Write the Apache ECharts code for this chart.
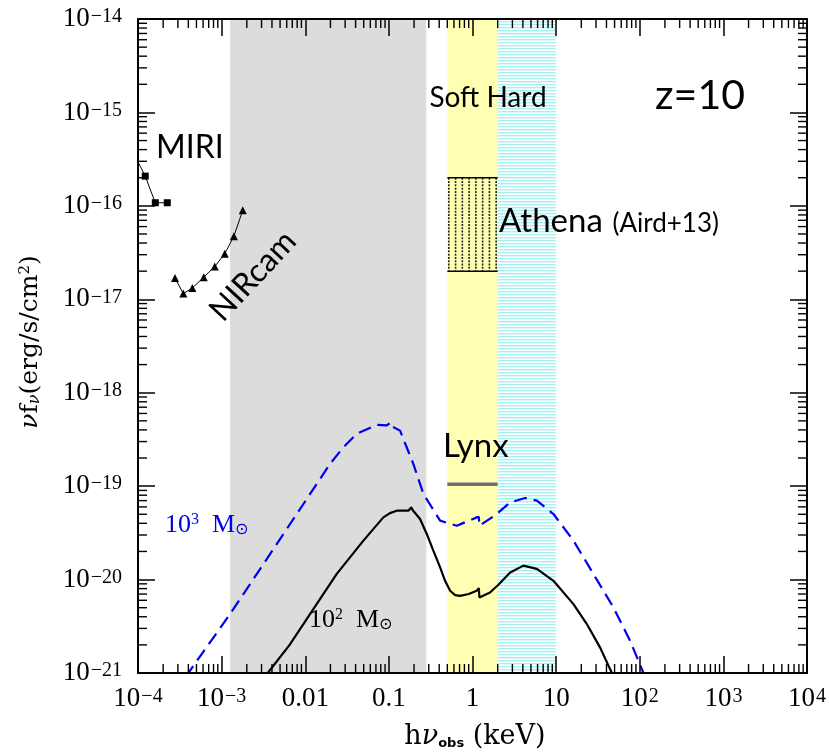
<!DOCTYPE html>
<html><head><meta charset="utf-8">
<script src="https://cdn.jsdelivr.net/npm/echarts@6/dist/echarts.min.js"></script>
<style>html,body{margin:0;padding:0;background:#fff}#c{width:829px;height:752px}</style>
</head><body><div id="c"></div>
<script>
// ---- data ----
const xTickLabels = [['10','−4'],['10','−3'],['0.01',''],['0.1',''],['1',''],['10',''],['10','2'],['10','3'],['10','4']];
const yTickLabels = [['10','−21'],['10','−20'],['10','−19'],['10','−18'],['10','−17'],['10','−16'],['10','−15'],['10','−14']];
const yTickValues = [1e-21, 1e-20, 1e-19, 1e-18, 1e-17, 1e-16, 1e-15, 1e-14];
const xRange = [1e-4, 1e4];
const yRange = [1e-21, 1e-14];

const grayBand = [1.26e-3, 0.28];   // keV
const softBand = [0.5, 2];
const hardBand = [2, 10];
const athenaBox = [0.5, 2e-17, 2, 2e-16];
const lynxLevel = [[0.5, 1.05e-19], [2, 1.05e-19]];

const miri = [[1e-4, 2.96e-16, 'none'], [1.22e-4, 2.08e-16], [1.61e-4, 1.08e-16], [2.24e-4, 1.08e-16]];
const nircam = [[2.77e-4, 1.69e-17], [3.48e-4, 1.15e-17], [4.46e-4, 1.32e-17], [6.11e-4, 1.72e-17],
  [8.27e-4, 2.24e-17], [1.09e-3, 3.08e-17], [1.40e-3, 4.72e-17], [1.79e-3, 8.97e-17]];

const bh100 = [[3.3e-3, 0.9e-21], [3.56e-3, 1.0e-21], [6.5e-3, 2.0e-21], [0.0114, 4.27e-21], [0.0238, 1.15e-20],
  [0.0496, 2.61e-20], [0.0859, 4.63e-20], [0.103, 5.14e-20], [0.124, 5.46e-20], [0.171, 5.46e-20],
  [0.186, 5.93e-20], [0.192, 5.55e-20], [0.236, 4.45e-20], [0.284, 3.08e-20], [0.340, 2.04e-20],
  [0.41, 1.35e-20], [0.47, 9.7e-21], [0.54, 7.59e-21], [0.62, 6.82e-21], [0.711, 6.7e-21],
  [0.9, 7.0e-21], [1.125, 7.59e-21], [1.19, 8.1e-21], [1.21, 6.43e-21], [1.62, 7.28e-21],
  [2.04, 8.79e-21], [2.82, 1.19e-20], [4.06, 1.41e-20], [5.88, 1.30e-20], [9.29, 9.7e-21],
  [16.1, 5.46e-21], [23.3, 3.34e-21], [33.6, 1.87e-21], [46.4, 1.0e-21], [52, 0.85e-21]];

const bh1000 = [[3.8e-4, 0.9e-21], [4.0e-4, 1.0e-21], [1.26e-3, 4.27e-21], [3.79e-3, 1.87e-20],
  [9.5e-3, 6.44e-20], [0.0198, 1.73e-19], [0.0286, 2.61e-19], [0.0413, 3.63e-19], [0.0716, 4.53e-19],
  [0.0944, 4.47e-19], [0.106, 4.83e-19], [0.112, 4.3e-19], [0.136, 3.93e-19], [0.196, 1.73e-19],
  [0.259, 8.24e-20], [0.41, 4.27e-20], [0.649, 3.77e-20], [1.125, 4.63e-20], [1.19, 4.7e-20],
  [1.21, 3.77e-20], [1.95, 5.03e-20], [2.82, 6.7e-20], [4.26, 7.47e-20], [5.88, 7.0e-20],
  [9.29, 5.03e-20], [16.1, 2.61e-20], [27.9, 1.15e-20], [48.5, 5.02e-21], [76.7, 2.21e-21],
  [110.7, 1.0e-21], [125, 0.8e-21]];

// ---- helpers ----
function minorTicks(lo, hi) {
  const out = [];
  for (let e = lo; e < hi; e++) for (let k = 2; k <= 9; k++) out.push(k * Math.pow(10, e));
  return out;
}
const xMinor = minorTicks(-4, 4).map(v => [v, 1e-18]);
const yMinor = minorTicks(-21, -14).map(v => [1e-2, v]);

function cyanPattern() {
  const c = document.createElement('canvas'); c.width = 4; c.height = 3;
  const g = c.getContext('2d');
  g.fillStyle = '#ffffff'; g.fillRect(0, 0, 4, 3);
  g.fillStyle = '#a6f0f0'; g.fillRect(0, 0, 4, 1);
  g.fillStyle = '#dcf9f9'; g.fillRect(0, 1, 4, 1);
  return c;
}

const SERIF = "'Liberation Serif', 'DejaVu Serif', serif";
const WSERIF = "'DejaVu Serif', serif";
const SANS = "Lato, 'Open Sans', sans-serif";
const tickRich = {
  b: { fontFamily: SERIF, fontSize: 27, lineHeight: 24, color: '#000' },
  e: { fontFamily: SERIF, fontSize: 20, color: '#000', verticalAlign: 'top', padding: [0, 0, 0, 1] }
};
function fmt(arr, offset) {
  return function (v) {
    const ex = Math.round(Math.log10(v));
    const t = arr[ex - offset];
    if (!t) return '';
    return '{b|' + t[0] + '}' + (t[1] ? '{e|' + t[1] + '}' : '');
  };
}

const chart = echarts.init(document.getElementById('c'), null, { renderer: 'canvas' });
const baseAxis = {
  type: 'log', logBase: 10, z: 5,
  axisLine: { show: true, onZero: false, lineStyle: { color: '#000', width: 2 } },
  axisTick: { show: true, inside: true, length: 17, lineStyle: { color: '#000', width: 1.5 } },
  splitLine: { show: false }, minorTick: { show: false }
};

chart.setOption({
  animation: false,
  backgroundColor: '#fff',
  grid: { left: 138, top: 19, right: 22, bottom: 79, containLabel: false, outerBoundsMode: 'none' },
  xAxis: [
    Object.assign({}, baseAxis, {
      position: 'bottom', min: xRange[0], max: xRange[1], splitNumber: 8,
      axisLabel: { formatter: fmt(xTickLabels, -4), margin: 14, rich: tickRich, showMinLabel: true, showMaxLabel: true, hideOverlap: false }
    }),
    Object.assign({}, baseAxis, {
      position: 'top', min: xRange[0], max: xRange[1], splitNumber: 8, axisLabel: { show: false }
    })
  ],
  yAxis: [
    Object.assign({}, baseAxis, {
      position: 'left', min: yRange[0], max: yRange[1], splitNumber: 7,
      axisLabel: { formatter: fmt(yTickLabels, -21), customValues: yTickValues, margin: 16, rich: tickRich, showMinLabel: true, showMaxLabel: true, hideOverlap: false }
    }),
    Object.assign({}, baseAxis, {
      position: 'right', min: yRange[0], max: yRange[1], splitNumber: 7, axisLabel: { show: false }
    })
  ],
  series: [
    {
      type: 'line', name: 'bands', data: [], z: 1, silent: true,
      markArea: {
        silent: true,
        data: [
          [{ xAxis: grayBand[0], itemStyle: { color: '#dcdcdc' } }, { xAxis: grayBand[1] }],
          [{ xAxis: softBand[0], itemStyle: { color: '#ffffb3' } }, { xAxis: softBand[1] }],
          [{ xAxis: hardBand[0], itemStyle: { color: { image: cyanPattern(), repeat: 'repeat' } } }, { xAxis: hardBand[1] }]
        ]
      }
    },
    {
      type: 'custom', name: 'athena', z: 2, silent: true,
      data: [athenaBox],
      encode: { x: 0, y: 1 },
      renderItem: function (params, api) {
        const tl = api.coord([api.value(0), api.value(3)]);
        const br = api.coord([api.value(2), api.value(1)]);
        const w = br[0] - tl[0];
        const children = [];
        const n = 8;
        for (let k = 0; k < n; k++) {
          const x = tl[0] + 1.5 + k * (w - 3) / (n - 1);
          children.push({ type: 'line', shape: { x1: x, y1: tl[1], x2: x, y2: br[1] },
            style: { stroke: '#222', lineWidth: 1.6, lineDash: [2, 1.3] } });
        }
        children.push({ type: 'line', shape: { x1: tl[0], y1: tl[1], x2: br[0], y2: tl[1] }, style: { stroke: '#000', lineWidth: 1.5 } });
        children.push({ type: 'line', shape: { x1: tl[0], y1: br[1], x2: br[0], y2: br[1] }, style: { stroke: '#000', lineWidth: 1.5 } });
        return { type: 'group', children: children };
      }
    },
    {
      type: 'line', name: 'Lynx', data: lynxLevel, z: 3, symbol: 'none',
      lineStyle: { color: '#707070', width: 3.5 }
    },
    {
      type: 'line', name: 'MIRI', z: 3, symbol: 'rect', symbolSize: 7,
      data: miri.map(p => p[2] === 'none' ? { value: [p[0], p[1]], symbolSize: 0 } : [p[0], p[1]]),
      itemStyle: { color: '#000' }, lineStyle: { color: '#000', width: 1 }
    },
    {
      type: 'line', name: 'NIRcam', z: 3, symbol: 'triangle', symbolSize: 8,
      data: nircam, itemStyle: { color: '#000' }, lineStyle: { color: '#000', width: 1 }
    },
    {
      type: 'line', name: '1e3', z: 3, symbol: 'none', data: bh1000, clip: true,
      lineStyle: { color: '#0000ee', width: 2.2, type: [13, 7] }
    },
    {
      type: 'line', name: '1e2', z: 3, symbol: 'none', data: bh100, clip: true,
      lineStyle: { color: '#000', width: 2.2 }
    },
    {
      type: 'custom', name: 'xminor', z: 6, silent: true, data: xMinor,
      renderItem: function (params, api) {
        const cs = params.coordSys;
        const x = api.coord([api.value(0), api.value(1)])[0];
        const st = { stroke: '#000', lineWidth: 1.4 };
        return { type: 'group', children: [
          { type: 'line', shape: { x1: x, y1: cs.y + cs.height, x2: x, y2: cs.y + cs.height - 9 }, style: st },
          { type: 'line', shape: { x1: x, y1: cs.y, x2: x, y2: cs.y + 9 }, style: st }
        ] };
      }
    },
    {
      type: 'custom', name: 'yminor', z: 6, silent: true, data: yMinor,
      renderItem: function (params, api) {
        const cs = params.coordSys;
        const y = api.coord([api.value(0), api.value(1)])[1];
        const st = { stroke: '#000', lineWidth: 1.4 };
        return { type: 'group', children: [
          { type: 'line', shape: { x1: cs.x, y1: y, x2: cs.x + 9, y2: y }, style: st },
          { type: 'line', shape: { x1: cs.x + cs.width, y1: y, x2: cs.x + cs.width - 9, y2: y }, style: st }
        ] };
      }
    }
  ],
  graphic: [
    { type: 'text', x: 156, y: 148, z: 20, style: { text: 'MIRI', fontFamily: SANS, fontSize: 32, fill: '#000', align: 'left', verticalAlign: 'middle' } },
    { type: 'text', x: 253, y: 276, rotation: 47 * Math.PI / 180, z: 20, style: { text: 'NIRcam', fontFamily: SANS, fontSize: 32, fill: '#000', align: 'center', verticalAlign: 'middle' } },
    { type: 'text', x: 488, y: 98, z: 20, style: { text: 'Soft Hard', fontFamily: SANS, fontSize: 28, fill: '#000', align: 'center', verticalAlign: 'middle' } },
    { type: 'text', x: 700, y: 96, z: 20, style: { text: 'z=10', fontFamily: SANS, fontSize: 41, fill: '#000', align: 'center', verticalAlign: 'middle' } },
    { type: 'text', x: 499, y: 221, z: 20, style: { text: '{a|Athena}{b| (Aird+13)}', align: 'left', verticalAlign: 'middle',
      rich: { a: { fontFamily: SANS, fontSize: 33, fill: '#000', verticalAlign: 'bottom' }, b: { fontFamily: SANS, fontSize: 26, fill: '#000', verticalAlign: 'bottom', padding: [0, 0, 1, 3] } } } },
    { type: 'text', x: 443, y: 446, z: 20, style: { text: 'Lynx', fontFamily: SANS, fontSize: 33, fill: '#000', align: 'left', verticalAlign: 'middle' } },
    { type: 'text', x: 165, y: 525, z: 20, style: { text: '{b|10}{e|3}{b|  M}{s|⊙}', align: 'left', verticalAlign: 'middle',
      rich: { b: { fontFamily: SERIF, fontSize: 26, fill: '#0000ee' }, e: { fontFamily: SERIF, fontSize: 16, fill: '#0000ee', verticalAlign: 'top' }, s: { fontFamily: "'DejaVu Sans', sans-serif", fontSize: 16, fill: '#0000ee', verticalAlign: 'bottom' } } } },
    { type: 'text', x: 309, y: 620, z: 20, style: { text: '{b|10}{e|2}{b|  M}{s|⊙}', align: 'left', verticalAlign: 'middle',
      rich: { b: { fontFamily: SERIF, fontSize: 26, fill: '#000' }, e: { fontFamily: SERIF, fontSize: 16, fill: '#000', verticalAlign: 'top' }, s: { fontFamily: "'DejaVu Sans', sans-serif", fontSize: 16, fill: '#000', verticalAlign: 'bottom' } } } },
    { type: 'text', x: 30, y: 342, rotation: Math.PI / 2, z: 20, style: { text: '{i|ν}{b|f}{s|ν}{b|(erg/s/cm}{e|2}{b|)}', align: 'center', verticalAlign: 'middle',
      rich: {
        b: { fontFamily: WSERIF, fontSize: 25, fill: '#000' },
        i: { fontFamily: WSERIF, fontSize: 25, fontStyle: 'italic', fill: '#000' },
        s: { fontFamily: WSERIF, fontSize: 16, fontStyle: 'italic', fill: '#000', verticalAlign: 'bottom' },
        e: { fontFamily: WSERIF, fontSize: 15, fill: '#000', verticalAlign: 'top' }
      } } },
    { type: 'text', x: 475, y: 737, z: 20, style: { text: '{b|h}{i|ν}{s|obs}{b| (keV)}', align: 'center', verticalAlign: 'middle',
      rich: {
        b: { fontFamily: WSERIF, fontSize: 27, fill: '#000' },
        i: { fontFamily: WSERIF, fontSize: 27, fontStyle: 'italic', fill: '#000' },
        s: { fontFamily: "'DejaVu Sans', sans-serif", fontWeight: 'bold', fontSize: 13, fill: '#000', verticalAlign: 'bottom' }
      } } }
  ]
});
</script></body></html>
